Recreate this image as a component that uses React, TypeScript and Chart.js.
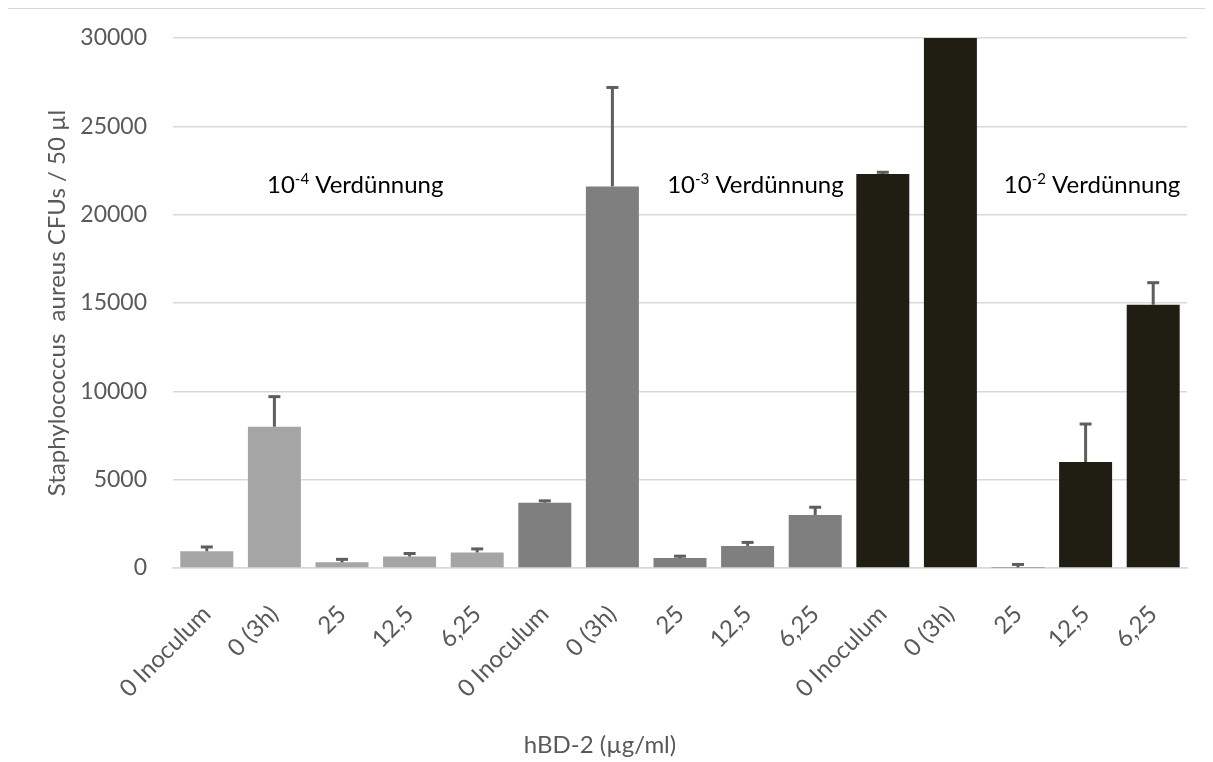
import React, { useEffect, useRef } from "react";
import { Chart, registerables } from "chart.js";

Chart.register(...registerables);

// hBD-2 concentrations, repeated for each dilution step
const categories = [
  "0 Inoculum", "0 (3h)", "25", "12,5", "6,25",
  "0 Inoculum", "0 (3h)", "25", "12,5", "6,25",
  "0 Inoculum", "0 (3h)", "25", "12,5", "6,25",
];

// mean CFUs / 50 µl
const cfuMeans = [
  950, 8000, 320, 650, 880,
  3700, 21600, 560, 1250, 3000,
  22300, 30000, 30, 6000, 14900,
];

// upper error (SD)
const cfuErrors = [
  240, 1700, 170, 170, 200,
  100, 5600, 110, 200, 440,
  100, 0, 170, 2150, 1250,
];

const barColors = [
  "#a5a5a5", "#a5a5a5", "#a5a5a5", "#a5a5a5", "#a5a5a5",
  "#7f7f7f", "#7f7f7f", "#7f7f7f", "#7f7f7f", "#7f7f7f",
  "#201d13", "#201d13", "#201d13", "#201d13", "#201d13",
];

const yTickValues = [0, 5000, 10000, 15000, 20000, 25000, 30000];

const dilutionExponents = ["-4", "-3", "-2"];
const dilutionAnchors = [0.89, 6.81, 11.79]; // category position where each label starts
const dilutionAnchorValue = 21200;

const FONT = "Lato, 'Open Sans', sans-serif";
const TEXT_GREY = "#595959";

const errorBarPlugin = {
  id: "errorBars",
  afterDatasetsDraw(chart: any) {
    const { ctx, scales } = chart;
    const meta = chart.getDatasetMeta(0);
    const y = scales.y;
    ctx.save();
    ctx.strokeStyle = "#5e5e5e";
    ctx.lineWidth = 3;
    meta.data.forEach((bar: any, i: number) => {
      const err = cfuErrors[i];
      if (!err) return;
      const x = bar.x;
      const yBase = y.getPixelForValue(cfuMeans[i]);
      const yTop = y.getPixelForValue(cfuMeans[i] + err);
      ctx.beginPath();
      ctx.moveTo(x, yBase);
      ctx.lineTo(x, yTop);
      ctx.stroke();
      ctx.beginPath();
      ctx.moveTo(x - 6, yTop);
      ctx.lineTo(x + 6, yTop);
      ctx.stroke();
    });
    ctx.restore();
  },
};

const labelPlugin = {
  id: "chartTexts",
  afterDraw(chart: any) {
    const { ctx, scales, chartArea } = chart;
    const x = scales.x;
    const y = scales.y;
    ctx.save();

    // dilution labels
    ctx.fillStyle = "#000000";
    ctx.textBaseline = "alphabetic";
    ctx.textAlign = "left";
    dilutionExponents.forEach((exp, i) => {
      let px = x.getPixelForValue(dilutionAnchors[i]);
      const py = y.getPixelForValue(dilutionAnchorValue);
      ctx.font = `24px ${FONT}`;
      ctx.fillText("10", px, py);
      px += ctx.measureText("10").width;
      ctx.font = `15px ${FONT}`;
      ctx.fillText(exp, px, py - 9);
      px += ctx.measureText(exp).width;
      ctx.font = `24px ${FONT}`;
      ctx.fillText(" Verdünnung", px, py);
    });

    // axis titles
    ctx.fillStyle = TEXT_GREY;
    ctx.font = `24px ${FONT}`;
    ctx.textAlign = "center";
    ctx.textBaseline = "middle";
    ctx.fillText("hBD-2 (µg/ml)", chartArea.left + 427, chartArea.bottom + 177);

    ctx.translate(49, (chartArea.top + chartArea.bottom) / 2);
    ctx.rotate(-Math.PI / 2);
    ctx.fillText("Staphylococcus  aureus CFUs / 50 µl", 0, 0);
    ctx.restore();
  },
};

export default function App() {
  const canvasRef = useRef<HTMLCanvasElement | null>(null);

  useEffect(() => {
    if (!canvasRef.current) return;
    const chart = new Chart(canvasRef.current, {
      type: "bar",
      data: {
        labels: categories,
        datasets: [
          {
            data: cfuMeans,
            backgroundColor: barColors,
            borderWidth: 0,
            barPercentage: 0.784,
            categoryPercentage: 1,
          },
        ],
      },
      options: {
        responsive: false,
        animation: false,
        layout: { padding: { top: 29, right: 26, left: 0, bottom: 0 } },
        plugins: {
          legend: { display: false },
          tooltip: { enabled: false },
        },
        scales: {
          x: {
            grid: { display: false, drawTicks: false },
            border: { display: true, color: "#d9d9d9", width: 1.5 },
            ticks: {
              color: TEXT_GREY,
              font: { family: FONT, size: 24 },
              minRotation: 45,
              maxRotation: 45,
              padding: 32,
              labelOffset: 0,
              autoSkip: false,
            },
            afterFit(scale: any) {
              scale.height = 195;
            },
          },
          y: {
            min: 0,
            max: 30000,
            afterBuildTicks(scale: any) {
              scale.ticks = yTickValues.map((v) => ({ value: v }));
            },
            grid: {
              color: "#d9d9d9",
              lineWidth: 1.5,
              drawTicks: true,
              tickLength: 24,
              tickColor: "rgba(0,0,0,0)",
            },
            border: { display: false },
            ticks: {
              color: TEXT_GREY,
              font: { family: FONT, size: 23 },
              padding: 2,
              callback: (v: any) => String(v),
            },
            afterFit(scale: any) {
              scale.width = 165;
            },
          },
        },
      },
      plugins: [errorBarPlugin, labelPlugin],
    });
    return () => chart.destroy();
  }, []);

  return (
    <div
      style={{
        marginLeft: -2,
        marginTop: -1,
        borderLeft: "2px solid #d9d9d9",
        borderTop: "2px solid #d9d9d9",
        width: 1205,
        height: 754,
        background: "#ffffff",
      }}
    >
      <canvas ref={canvasRef} width={1205} height={754} style={{ display: "block" }} />
    </div>
  );
}
